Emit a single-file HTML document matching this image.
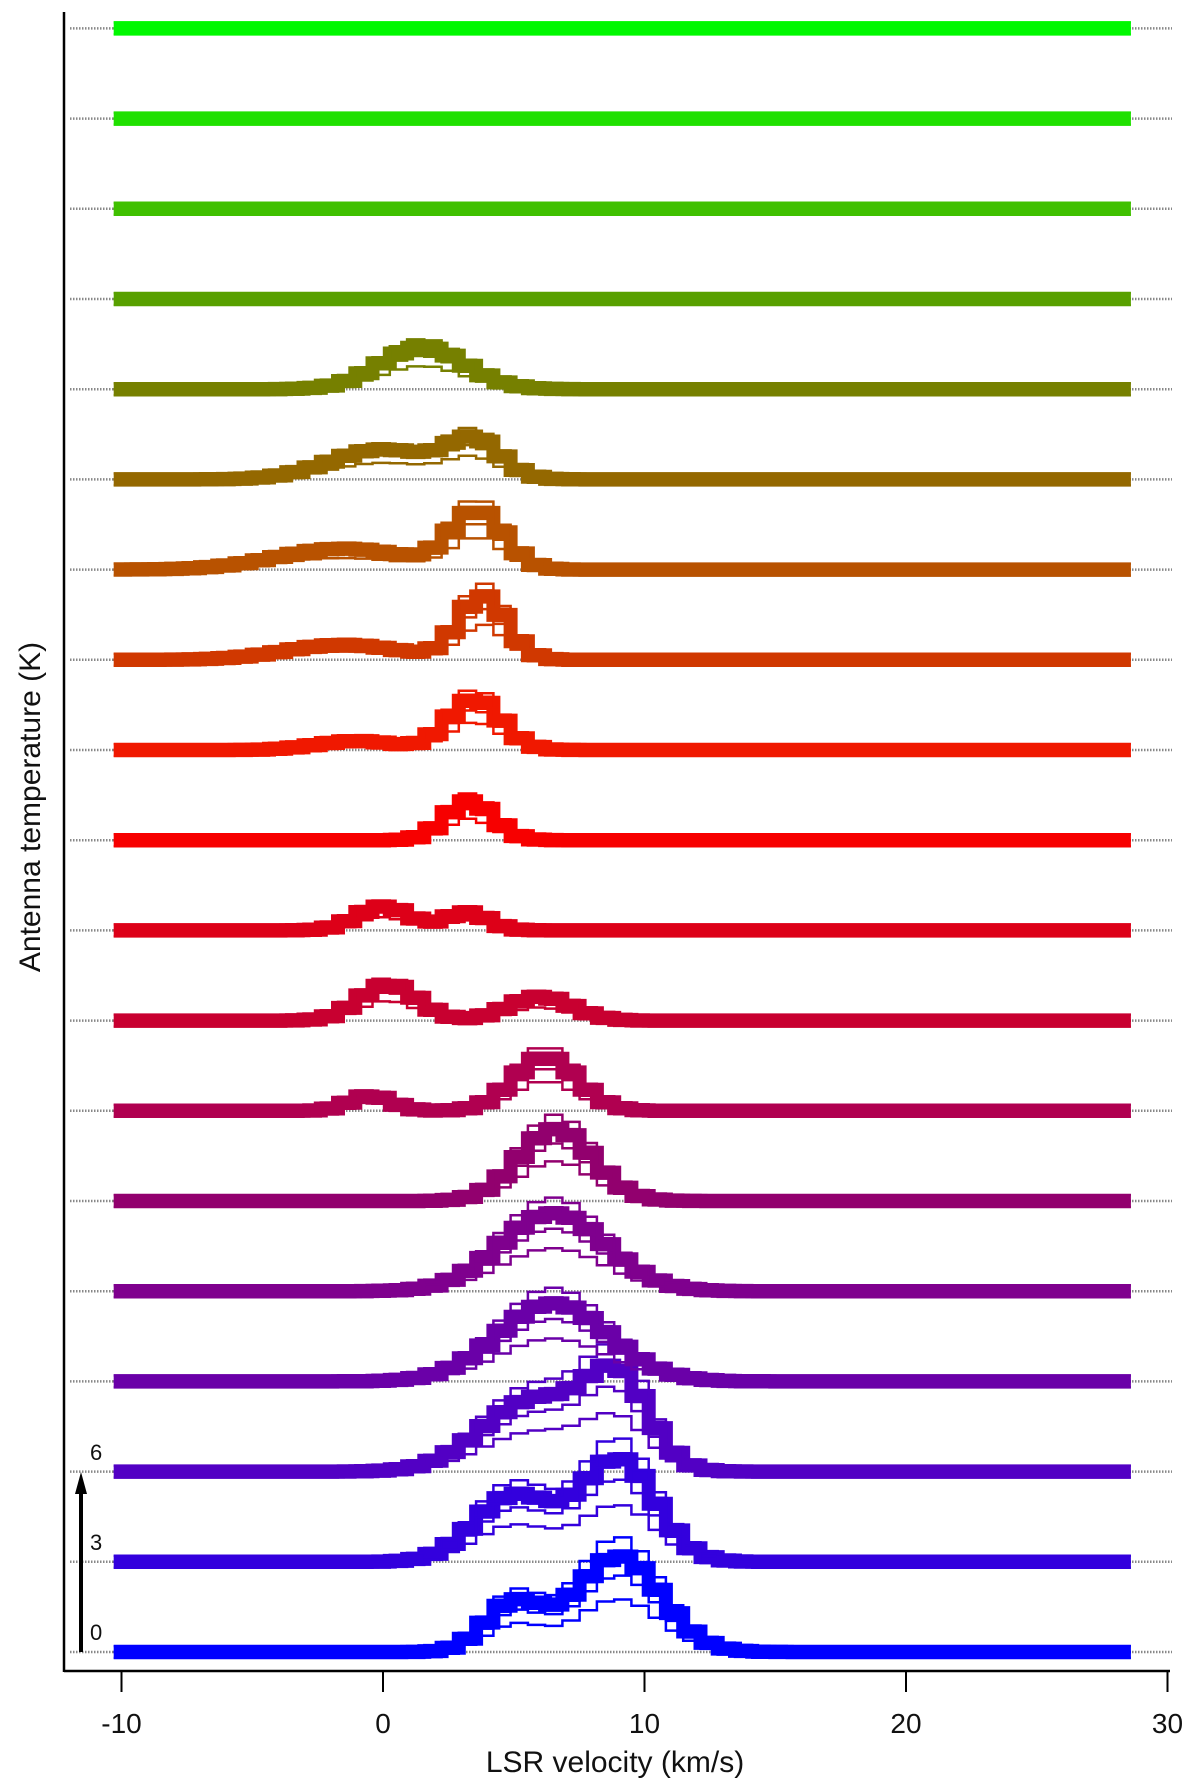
<!DOCTYPE html>
<html><head><meta charset="utf-8"><style>
html,body{margin:0;padding:0;background:#fff}
svg{display:block}
text{font-family:"Liberation Sans",sans-serif;fill:#111}
</style></head><body>
<svg id="chart" width="1200" height="1785" viewBox="0 0 1200 1785" xmlns="http://www.w3.org/2000/svg">
<g id="grid"></g>
<g id="series"></g>
<line x1="64" y1="12" x2="64" y2="1672" stroke="#000" stroke-width="2.5"/>
<line x1="64" y1="1671" x2="1170" y2="1671" stroke="#000" stroke-width="2.5"/>
<g id="xticks"></g>
<text x="615" y="1772" font-size="30" text-anchor="middle">LSR velocity (km/s)</text>
<text x="0" y="0" font-size="30" text-anchor="middle" transform="translate(40,807) rotate(-90)">Antenna temperature (K)</text>
<g>
<line x1="81" y1="1652" x2="81" y2="1490" stroke="#000" stroke-width="4"/>
<polygon points="81,1472 75,1494 87,1494" fill="#000"/>
<text x="90" y="1460" font-size="22">6</text>
<text x="90" y="1550" font-size="22">3</text>
<text x="90" y="1640" font-size="22">0</text>
</g>
</svg>
<script>
// data
const xTicks = [-10, 0, 10, 20, 30];
const rowColors = ["#0000ff","#3300dd","#5200c4","#6a00a8","#7f008e","#92006e","#b00050","#c80030","#dd0018","#f70000","#f01800","#d03800","#b85200","#946800","#768000","#58a000","#40c000","#20e000","#00f800"];
// per row gaussian components: [amplitude K, center km/s, sigma km/s]
const rowComponents = [
 [[3.2,9,1.6],[1.6,5,1.1]],
 [[3.4,9,1.4],[2.2,5,1.5]],
 [[2.8,9,1.2],[2.4,5.8,2.0]],
 [[2.6,6.5,2.1]],
 [[2.6,6.5,2.0]],
 [[2.4,6.6,1.4]],
 [[1.8,6.2,1.2],[0.5,-0.5,0.8]],
 [[1.2,0.2,1.1],[0.8,6,1.2]],
 [[0.8,0,1.0],[0.6,3.2,0.8]],
 [[1.3,3.3,0.9]],
 [[1.7,3.5,1.0],[0.3,-1,1.5]],
 [[2.1,3.8,0.9],[0.5,-1.5,2.2]],
 [[1.9,3.6,1.0],[0.7,-1.5,2.5]],
 [[1.2,3.5,1.0],[1.0,0,2.0]],
 [[1.4,1.5,1.6]],
 [],[],[],[]
];
const traceScales = [0.55, 0.8, 1.0, 1.2];
const traceOffsets = [0.2, -0.2];
const chanWidth = 0.66;
const vStart = -10.3, vEnd = 28.6;

// axis functions
const X = v => 383 + 26.15 * v;
const baseY = i => 1652 - i * 90.2;
const Y = (i, t) => baseY(i) - 30 * t;

const ns = "http://www.w3.org/2000/svg";
const grid = document.getElementById('grid');
const series = document.getElementById('series');
const xt = document.getElementById('xticks');

xTicks.forEach(t => {
  const l = document.createElementNS(ns, 'line');
  l.setAttribute('x1', X(t)); l.setAttribute('x2', X(t));
  l.setAttribute('y1', 1671); l.setAttribute('y2', 1692);
  l.setAttribute('stroke', '#000'); l.setAttribute('stroke-width', 2);
  
  
  xt.appendChild(l);
  const tx = document.createElementNS(ns, 'text');
  tx.setAttribute('x', X(t)); tx.setAttribute('y', 1733);
  tx.setAttribute('font-size', 28); tx.setAttribute('text-anchor', 'middle');
  tx.textContent = t;
  
  
  xt.appendChild(tx);
});

function profile(comps, v) {
  let s = 0;
  comps.forEach(c => { s += c[0] * Math.exp(-0.5 * ((v - c[1]) / c[2]) ** 2); });
  return s;
}

function stepPath(i, comps, sc, off) {
  let d = '';
  for (let v = vStart; v < vEnd; v += chanWidth) {
    const vm = Math.min(v + chanWidth, vEnd);
    const y = Y(i, sc * profile(comps, v + chanWidth / 2) + off);
    d += (d ? 'L' : 'M') + X(v).toFixed(1) + ',' + y.toFixed(1) + 'L' + X(vm).toFixed(1) + ',' + y.toFixed(1);
  }
  return d;
}

rowComponents.forEach((comps, i) => {
  const bl = document.createElementNS(ns, 'line');
  bl.setAttribute('x1', 70); bl.setAttribute('x2', 1172);
  bl.setAttribute('y1', baseY(i)); bl.setAttribute('y2', baseY(i));
  bl.setAttribute('stroke', '#888'); bl.setAttribute('stroke-width', 2.5);
  bl.setAttribute('stroke-dasharray', '1.5 1.5');
  
  
  grid.appendChild(bl);

  const g = document.createElementNS(ns, 'g');
  
  
  series.appendChild(g);
  traceScales.forEach((sc, k) => {
    const p = document.createElementNS(ns, 'path');
    p.setAttribute('d', stepPath(i, comps, sc, 0));
    p.setAttribute('fill', 'none');
    p.setAttribute('stroke', rowColors[i]);
    p.setAttribute('stroke-width', k === 2 ? 14 : 2.5);
    
    
    g.appendChild(p);
  });
  traceOffsets.forEach(off => {
    const p = document.createElementNS(ns, 'path');
    p.setAttribute('d', stepPath(i, comps, 1.0, off));
    p.setAttribute('fill', 'none');
    p.setAttribute('stroke', rowColors[i]);
    p.setAttribute('stroke-width', 2.5);
    
    
    g.appendChild(p);
  });
});
</script>
</body></html>
